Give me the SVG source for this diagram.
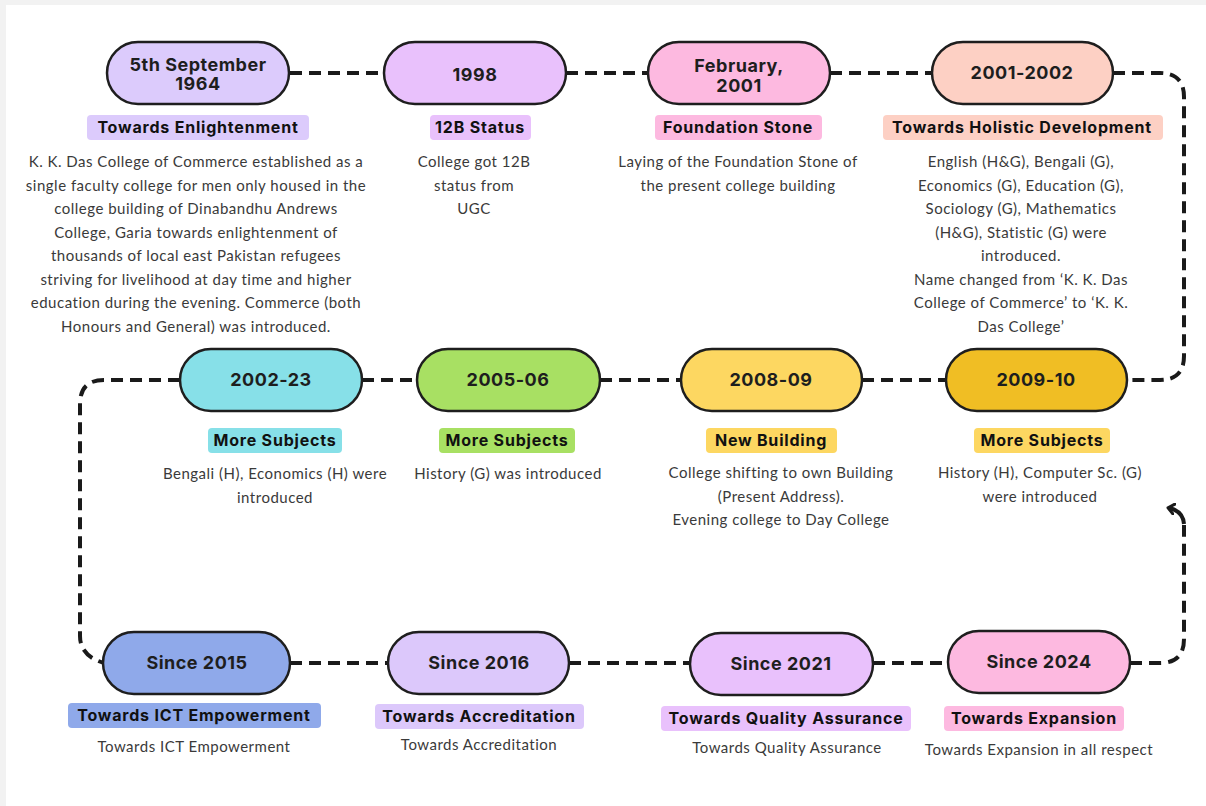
<svg xmlns="http://www.w3.org/2000/svg" width="1206" height="806" viewBox="0 0 1206 806">
<defs>
<style>
.pill{stroke:#1e1e1e;stroke-width:2.5}
.nt{font-family:Inter,"Liberation Sans",sans-serif;font-weight:700;font-size:18px;letter-spacing:0.5px;fill:#1e1e1e;text-anchor:middle}
.tag{font-family:Inter,"Liberation Sans",sans-serif;font-weight:700;font-size:16px;letter-spacing:0.8px;fill:#111;text-anchor:middle}
.bd{font-family:Lato,"Open Sans",sans-serif;font-size:15px;letter-spacing:0.5px;fill:#3a3a3a;text-anchor:middle}
.dash{fill:none;stroke:#1a1a1a;stroke-width:4;stroke-dasharray:12 7}
</style>
<marker id="chev" viewBox="0 0 12 12" refX="6" refY="6" markerWidth="12" markerHeight="12" markerUnits="userSpaceOnUse" orient="auto">
<polyline points="1,1 7,6 1,11" fill="none" stroke="#1a1a1a" stroke-width="3" stroke-linecap="round" stroke-linejoin="round"/>
</marker>
</defs>
<rect width="1206" height="806" fill="#f2f2f2"/>
<rect x="6" y="5" width="1200" height="801" fill="#ffffff"/>

<g id="connectors">
<line class="dash" x1="290" y1="73" x2="384" y2="73"/>
<line class="dash" x1="566" y1="73" x2="648" y2="73"/>
<line class="dash" x1="830" y1="73" x2="932" y2="73"/>
<path class="dash" d="M1113,73 H1160 Q1184,73 1184,97 V356 Q1184,380 1160,380 H1127"/>
<line class="dash" x1="862" y1="380" x2="946" y2="380"/>
<line class="dash" x1="600" y1="380" x2="681" y2="380"/>
<line class="dash" x1="362" y1="380" x2="417" y2="380"/>
<path class="dash" d="M180,380 H104 Q80,380 80,404 V636 Q80,656 104,663"/>
<line class="dash" x1="290" y1="663" x2="388" y2="663"/>
<line class="dash" x1="569" y1="663" x2="690" y2="663"/>
<line class="dash" x1="873" y1="663" x2="948" y2="663"/>
<path class="dash" d="M1130,663 H1160 Q1184,663 1184,639 V525"/>
<path d="M1184,524 Q1183,511 1169,508" fill="none" stroke="#1a1a1a" stroke-width="4" marker-end="url(#chev)"/>
</g>

<g id="n1">
<rect class="pill" x="107" y="42" width="182" height="62" rx="31" fill="#dccbfc"/>
<text class="nt" x="198" y="71">5th September</text>
<text class="nt" x="198" y="90">1964</text>
<rect x="87" y="115" width="222" height="25" rx="4" fill="#dccbfc"/>
<text class="tag" x="198" y="133">Towards Enlightenment</text>
<text class="bd" x="196" y="167">K. K. Das College of Commerce established as a</text>
<text class="bd" x="196" y="190.5">single faculty college for men only housed in the</text>
<text class="bd" x="196" y="214">college building of Dinabandhu Andrews</text>
<text class="bd" x="196" y="237.5">College, Garia towards enlightenment of</text>
<text class="bd" x="196" y="261">thousands of local east Pakistan refugees</text>
<text class="bd" x="196" y="284.5">striving for livelihood at day time and higher</text>
<text class="bd" x="196" y="308">education during the evening. Commerce (both</text>
<text class="bd" x="196" y="331.5">Honours and General) was introduced.</text>
</g>

<g id="n2">
<rect class="pill" x="384" y="42" width="182" height="62" rx="31" fill="#e9c1fc"/>
<text class="nt" x="475" y="81">1998</text>
<rect x="430" y="115" width="101" height="25" rx="4" fill="#e9c1fc"/>
<text class="tag" x="480" y="133">12B Status</text>
<text class="bd" x="474" y="167">College got 12B</text>
<text class="bd" x="474" y="190.5">status from</text>
<text class="bd" x="474" y="214">UGC</text>
</g>

<g id="n3">
<rect class="pill" x="648" y="42" width="182" height="62" rx="31" fill="#fdb9e0"/>
<text class="nt" x="739" y="72">February,</text>
<text class="nt" x="739" y="92">2001</text>
<rect x="655" y="115" width="167" height="25" rx="4" fill="#fdb9e0"/>
<text class="tag" x="738" y="133">Foundation Stone</text>
<text class="bd" x="738" y="167">Laying of the Foundation Stone of</text>
<text class="bd" x="738" y="190.5">the present college building</text>
</g>

<g id="n4">
<rect class="pill" x="932" y="42" width="181" height="62" rx="31" fill="#fdd0c4"/>
<text class="nt" x="1022" y="79">2001-2002</text>
<rect x="883" y="115" width="280" height="25" rx="4" fill="#fdd0c4"/>
<text class="tag" x="1022" y="133">Towards Holistic Development</text>
<text class="bd" x="1021" y="167">English (H&amp;G), Bengali (G),</text>
<text class="bd" x="1021" y="190.5">Economics (G), Education (G),</text>
<text class="bd" x="1021" y="214">Sociology (G), Mathematics</text>
<text class="bd" x="1021" y="237.5">(H&amp;G), Statistic (G) were</text>
<text class="bd" x="1021" y="261">introduced.</text>
<text class="bd" x="1021" y="284.5">Name changed from ‘K. K. Das</text>
<text class="bd" x="1021" y="308">College of Commerce’ to ‘K. K.</text>
<text class="bd" x="1021" y="331.5">Das College’</text>
</g>

<g id="n5">
<rect class="pill" x="180" y="349" width="182" height="62" rx="31" fill="#87e0e8"/>
<text class="nt" x="271" y="386">2002-23</text>
<rect x="208" y="428" width="134" height="25" rx="4" fill="#87e0e8"/>
<text class="tag" x="275" y="446">More Subjects</text>
<text class="bd" x="275" y="479">Bengali (H), Economics (H) were</text>
<text class="bd" x="275" y="502.5">introduced</text>
</g>

<g id="n6">
<rect class="pill" x="417" y="349" width="183" height="62" rx="31" fill="#a8e063"/>
<text class="nt" x="508" y="386">2005-06</text>
<rect x="439" y="428" width="136" height="25" rx="4" fill="#a8e063"/>
<text class="tag" x="507" y="446">More Subjects</text>
<text class="bd" x="508" y="479">History (G) was introduced</text>
</g>

<g id="n7">
<rect class="pill" x="681" y="349" width="181" height="62" rx="31" fill="#fdd761"/>
<text class="nt" x="771" y="386">2008-09</text>
<rect x="706" y="428" width="131" height="25" rx="4" fill="#fdd761"/>
<text class="tag" x="771" y="446">New Building</text>
<text class="bd" x="781" y="478">College shifting to own Building</text>
<text class="bd" x="781" y="501.5">(Present Address).</text>
<text class="bd" x="781" y="525">Evening college to Day College</text>
</g>

<g id="n8">
<rect class="pill" x="946" y="349" width="181" height="62" rx="31" fill="#f0be24"/>
<text class="nt" x="1036" y="386">2009-10</text>
<rect x="974" y="428" width="136" height="25" rx="4" fill="#fdd761"/>
<text class="tag" x="1042" y="446">More Subjects</text>
<text class="bd" x="1040" y="478">History (H), Computer Sc. (G)</text>
<text class="bd" x="1040" y="501.5">were introduced</text>
</g>

<g id="n9">
<rect class="pill" x="103" y="632" width="187" height="62" rx="31" fill="#8fa9ea"/>
<text class="nt" x="197" y="669">Since 2015</text>
<rect x="68" y="703" width="253" height="25" rx="4" fill="#8fa9ea"/>
<text class="tag" x="194" y="721">Towards ICT Empowerment</text>
<text class="bd" x="194" y="752">Towards ICT Empowerment</text>
</g>

<g id="n10">
<rect class="pill" x="388" y="632" width="181" height="62" rx="31" fill="#dcc8fb"/>
<text class="nt" x="479" y="669">Since 2016</text>
<rect x="375" y="704" width="209" height="25" rx="4" fill="#dcc8fb"/>
<text class="tag" x="479" y="722">Towards Accreditation</text>
<text class="bd" x="479" y="750">Towards Accreditation</text>
</g>

<g id="n11">
<rect class="pill" x="690" y="633" width="183" height="62" rx="31" fill="#e9c1fc"/>
<text class="nt" x="781" y="670">Since 2021</text>
<rect x="661" y="706" width="250" height="25" rx="4" fill="#e9c1fc"/>
<text class="tag" x="786" y="724">Towards Quality Assurance</text>
<text class="bd" x="787" y="753">Towards Quality Assurance</text>
</g>

<g id="n12">
<rect class="pill" x="948" y="631" width="182" height="62" rx="31" fill="#fdb9e0"/>
<text class="nt" x="1039" y="668">Since 2024</text>
<rect x="944" y="706" width="180" height="25" rx="4" fill="#fdb9e0"/>
<text class="tag" x="1034" y="724">Towards Expansion</text>
<text class="bd" x="1039" y="755">Towards Expansion in all respect</text>
</g>
</svg>
